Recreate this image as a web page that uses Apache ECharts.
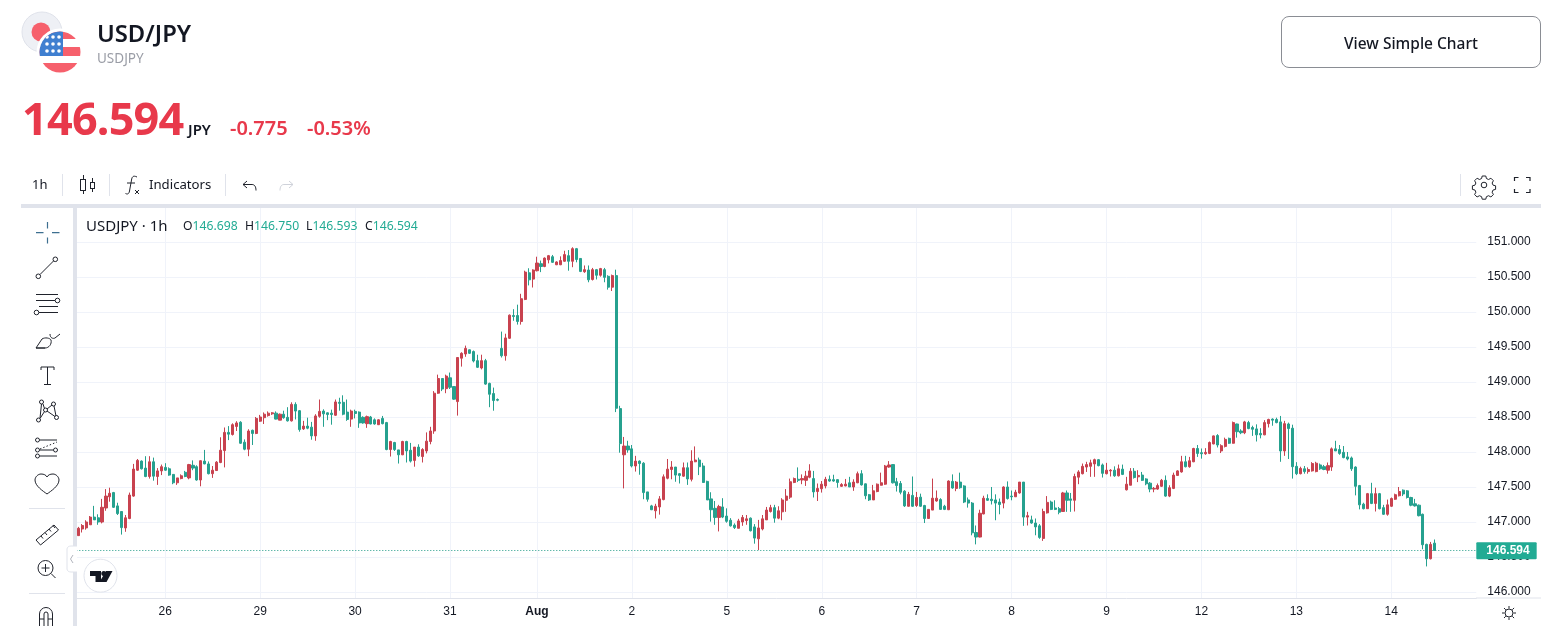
<!DOCTYPE html>
<html>
<head>
<meta charset="utf-8">
<title>USD/JPY</title>
<script src="https://cdn.jsdelivr.net/npm/echarts@6/dist/echarts.min.js"></script>
<style>
  html, body { margin: 0; padding: 0; background: #fff; overflow: hidden; }
  body { width: 1546px; height: 640px; position: relative; font-family: "Noto Sans", sans-serif; color: #131722; }
  #chart { position: absolute; left: 0; top: 0; width: 1546px; height: 640px; }
  #icons { position: absolute; left: 0; top: 0; pointer-events: none; }
  .t { position: absolute; white-space: nowrap; line-height: 1; }
  .up { color: #22ab94; }
  .red { color: #e8394b; }
  .btn { position: absolute; left: 1281px; top: 16px; width: 258px; height: 50px; border: 1px solid #8a8d94; border-radius: 8px;
         text-align: center; line-height: 52px; font-size: 15.5px; font-weight: 500; color: #131722; }
</style>
</head>
<body>
<div id="chart"></div>

<svg id="icons" width="1546" height="640" fill="none" stroke="#1f222b" stroke-width="1">
  <!-- panel bands -->
  <rect x="21" y="204" width="1520" height="4" fill="#e0e3eb" stroke="none"/>
  <rect x="73" y="204" width="4" height="422" fill="#e0e3eb" stroke="none"/>
  <line x1="1476" y1="598" x2="1541" y2="598" stroke="#e0e3eb"/>
  <!-- flags -->
  <circle cx="42" cy="32" r="20" fill="#eef0f5" stroke="#dfe2ea"/>
  <circle cx="41" cy="32" r="9.5" fill="#f6606c" stroke="none"/>
  <circle cx="60" cy="52" r="23.5" fill="#fff" stroke="none"/>
  <clipPath id="us"><circle cx="60" cy="52" r="20.5"/></clipPath>
  <g clip-path="url(#us)" stroke="none">
    <rect x="39" y="31" width="42" height="42" fill="#fff"/>
    <rect x="39" y="31" width="42" height="8" fill="#f6606c"/>
    <rect x="39" y="47" width="42" height="9" fill="#f6606c"/>
    <rect x="39" y="63" width="42" height="11" fill="#f6606c"/>
    <rect x="39" y="31" width="24" height="25" fill="#3f7fd0"/>
    <g fill="#fff">
      <circle cx="47" cy="37" r="1.800"/><circle cx="53" cy="37" r="1.800"/><circle cx="59" cy="37" r="1.800"/>
      <circle cx="47" cy="44" r="1.800"/><circle cx="53" cy="44" r="1.800"/><circle cx="59" cy="44" r="1.800"/>
      <circle cx="47" cy="51" r="1.800"/><circle cx="53" cy="51" r="1.800"/><circle cx="59" cy="51" r="1.800"/>
    </g>
  </g>
  <!-- toolbar separators -->
  <g stroke="#e0e3eb">
    <line x1="62.5" y1="174" x2="62.5" y2="196"/><line x1="109.5" y1="174" x2="109.5" y2="196"/>
    <line x1="225.5" y1="174" x2="225.5" y2="196"/><line x1="1460.5" y1="174" x2="1460.5" y2="196"/>
    <line x1="29" y1="508.5" x2="65" y2="508.5"/><line x1="29" y1="593.5" x2="65" y2="593.5"/>
  </g>
  <!-- candle icon -->
  <path d="M83.5 175v4M83.5 190v4M92.5 178v4M92.5 188v4"/>
  <rect x="80.5" y="179.5" width="5" height="11"/><rect x="90.5" y="182.5" width="4" height="6"/>
  <!-- fx icon -->
  <path d="M137 177c-4-2-5 0-5.500 3l-2 11c-.5 3-2 3.500-4 2.500M127 183h8M135 190l4 4M139 190l-4 4"/>
  <!-- undo / redo -->
  <path d="M247 181l-4 3.500 4 3.500M243 184.500h9c2.500 0 4 2 4 6"/>
  <path d="M289 181l4 3.500-4 3.500M293 184.500h-9c-2.500 0-4 2-4 6" stroke="#cfd2da"/>
  <!-- gear / fullscreen -->
  <g transform="translate(1484 185)">
    <circle r="2.800"/>
    <path d="M-1.800-9l3.600 0 .6 2.500 2.200 1 2.300-1.300 2.500 2.500-1.300 2.300 1 2.200 2.500.6v3.600l-2.500.6-1 2.200 1.300 2.300-2.500 2.500-2.300-1.300-2.200 1-.6 2.500h-3.600l-.6-2.500-2.200-1-2.300 1.300-2.500-2.500 1.300-2.300-1-2.200-2.500-.6v-3.600l2.500-.6 1-2.200-1.300-2.300 2.500-2.500 2.300 1.300 2.200-1z"/>
  </g>
  <path d="M1514.500 181v-3.500h4M1526 177.500h4v3.500M1530 189v3.500h-4M1518.500 192.500h-4v-3.500" stroke-width="1.200"/>
  <!-- left drawing tools -->
  <path d="M36 232.700h7.500M52 232.700h7.500M47.500 222v6.500M47.500 237.500v6" stroke="#3d6f90" stroke-width="1.200"/>
  <line x1="40" y1="274.500" x2="53.500" y2="261"/><circle cx="38.300" cy="276.300" r="2.300"/><circle cx="55.300" cy="259.300" r="2.300"/>
  <path d="M36 294.500h22M36 300.500h19M39 306.500h19M39 312.500h19"/><circle cx="57.500" cy="300.500" r="2.300"/><circle cx="36.500" cy="312.500" r="2.300"/>
  <path d="M36 348l6-9c3-2 8-1 9 1 1 4-2 8-6 8zM36 348h9M50 334c0 4 3 5 5 4l5-4"/>
  <path d="M41 370v-3h13v3M47.500 367v17M44 384.500h7"/>
  <g>
    <circle cx="38.500" cy="420" r="2"/><circle cx="41.500" cy="402" r="2"/><circle cx="45.500" cy="410" r="2"/><circle cx="53.500" cy="404" r="2"/><circle cx="56.500" cy="417.500" r="2"/>
    <path d="M40 418l1.500-14M40 418.500l4.500-7M43 404l1.500 4.500M47 409l5-4M47 411l8 5.500M54 406l2 10"/>
  </g>
  <circle cx="37.500" cy="440" r="2"/><circle cx="37.500" cy="450" r="2"/><circle cx="37.500" cy="456" r="2"/><circle cx="55.500" cy="450" r="2"/>
  <path d="M40 440h17M40 450h13M40 456h17"/><path d="M40 449l17-7" stroke-dasharray="1.500 2"/>
  <path d="M47 494c-4-3-12-8-12-14 0-3 3-6 6-6 3 0 5 1 6 3 1-2 3-3 6-3 3 0 6 3 6 6 0 6-8 11-12 14z"/>
  <path d="M36 540l18-15 4.500 5-18 15zM41 536l2 2.500M45 532.500l2 2.500M49 529l2 2.500M53 525.500l2 2.500"/>
  <circle cx="45.500" cy="568" r="7.500"/><path d="M45.500 564v8M41.500 568h8M51 573.500l4.500 4.500"/>
  <path d="M39.500 626v-12a6.500 6.500 0 0 1 13 0v12M44 626v-12a2 2 0 0 1 4 0v12M39.500 619h4.500M48 619h4.500"/>
  <!-- collapse handle and logo -->
  <path d="M77 546h-6c-2 0-4 1-4 3v20c0 2 2 3 4 3h6" fill="#fff" stroke="#e0e3eb"/>
  <path d="M73 555l-2.500 4 2.500 4" stroke="#b2b5be"/>
  <circle cx="100.500" cy="575.700" r="16.500" fill="#fff" stroke="#e0e3eb"/>
  <path d="M90 571h11v11h-5.500v-6h-5.500zM106 571h6.500l-6 11h-7z" fill="#131722" stroke="none"/>
  <circle cx="103.800" cy="573.500" r="2.500" fill="#131722" stroke="none"/>
  <!-- sun -->
  <circle cx="1509" cy="613" r="4"/><path d="M1509 606v2.500M1509 617.500v2.500M1502 613h2.500M1513.500 613h2.500M1504 608l1.800 1.800M1512.300 616.300l1.800 1.800M1504 618l1.800-1.800M1512.300 609.700l1.800-1.800"/>
</svg>

<div class="t" style="left:97px;top:22px;font-size:23.8px;font-weight:600;">USD/JPY</div>
<div class="t" style="left:97px;top:52px;font-size:13.5px;color:#9a9da6;">USDJPY</div>
<div class="t red" style="left:22px;top:95px;font-size:45px;font-weight:700;letter-spacing:-.8px;">146.594</div>
<div class="t" style="left:188px;top:122px;font-size:15px;font-weight:600;">JPY</div>
<div class="t red" style="left:230px;top:118px;font-size:20px;font-weight:600;">-0.775</div>
<div class="t red" style="left:307px;top:118px;font-size:20px;font-weight:600;">-0.53%</div>
<div class="btn">View Simple Chart</div>

<div class="t" style="left:32px;top:178px;font-size:13px;">1h</div>
<div class="t" style="left:149px;top:178px;font-size:13.2px;">Indicators</div>

<div class="t" style="left:86px;top:218px;font-size:15px;">USDJPY · 1h</div>
<div class="t" style="left:183px;top:220px;font-size:12.2px;">O<span class="up">146.698</span></div>
<div class="t" style="left:245px;top:220px;font-size:12.2px;">H<span class="up">146.750</span></div>
<div class="t" style="left:306px;top:220px;font-size:12.2px;">L<span class="up">146.593</span></div>
<div class="t" style="left:365px;top:220px;font-size:12.2px;">C<span class="up">146.594</span></div>

<script>
  // hourly candles
  var opens = [
    146.805,146.90,146.915,146.96,147.07,147.06,147.0,147.20,147.36,147.42,
    147.23,147.15,146.915,147.05,147.37,147.74,147.87,147.77,147.65,147.86,
    147.65,147.73,147.78,147.76,147.68,147.56,147.62,147.71,147.63,147.81,
    147.79,147.60,147.87,147.83,147.69,147.735,147.85,148.02,148.28,148.25,
    148.365,148.425,148.14,148.04,148.31,148.265,148.44,148.49,148.52,148.545,
    148.555,148.455,148.54,148.495,148.445,148.68,148.59,148.33,148.37,148.355,
    148.23,148.51,148.585,148.56,148.555,148.525,148.71,148.71,148.57,148.47,
    148.58,148.57,148.495,148.405,148.50,148.46,148.39,148.48,148.42,148.035,
    148.135,148.03,147.96,148.15,148.025,147.88,148.07,147.935,148.015,148.15,
    148.30,148.84,149.05,148.905,149.06,148.935,148.72,149.34,149.40,149.46,
    149.435,149.305,149.20,149.305,148.98,148.835,148.75,149.48,149.375,149.625,
    149.95,149.95,149.865,150.18,150.56,150.47,150.59,150.69,150.65,150.745,
    150.79,150.675,150.675,150.725,150.805,150.725,150.905,150.765,150.575,150.60,
    150.465,150.605,150.525,150.605,150.51,150.355,150.52,148.62,147.96,148.085,
    148.045,147.80,147.87,147.84,147.43,147.23,147.16,147.215,147.32,147.625,
    147.75,147.785,147.69,147.655,147.775,147.61,147.86,147.885,147.80,147.58,
    147.33,147.195,147.065,147.215,147.085,147.025,146.955,146.91,147.00,147.02,
    147.055,146.93,146.76,146.90,147.03,147.15,147.205,147.055,147.145,147.31,
    147.355,147.565,147.61,147.60,147.595,147.64,147.62,147.435,147.475,147.515,
    147.61,147.605,147.605,147.51,147.515,147.56,147.50,147.56,147.69,147.545,
    147.39,147.315,147.435,147.525,147.54,147.785,147.82,147.575,147.55,147.44,
    147.225,147.38,147.235,147.355,147.235,147.05,147.17,147.30,147.32,147.225,
    147.175,147.58,147.48,147.57,147.515,147.315,147.27,146.85,146.785,147.115,
    147.335,147.325,147.315,147.285,147.27,147.50,147.37,147.36,147.415,147.57,
    147.07,147.03,146.985,146.945,146.765,147.13,147.285,147.20,147.19,147.15,
    147.415,147.33,147.31,147.64,147.69,147.785,147.795,147.83,147.89,147.815,
    147.69,147.73,147.74,147.66,147.755,147.46,147.525,147.725,147.645,147.67,
    147.615,147.555,147.47,147.47,147.51,147.595,147.37,147.48,147.665,147.715,
    147.86,147.79,147.86,148.05,147.99,147.975,147.98,148.115,148.235,148.015,
    148.08,148.195,148.125,148.40,148.30,148.275,148.42,148.35,148.33,148.265,
    148.245,148.405,148.47,148.465,148.43,148.015,148.40,148.34,147.795,147.69,
    147.76,147.72,147.73,147.72,147.815,147.79,147.74,147.785,148.045,148.035,
    147.995,147.93,147.915,147.785,147.52,147.255,147.19,147.405,147.265,147.405,
    147.205,147.11,147.225,147.325,147.375,147.455,147.445,147.35,147.26,147.24,
    147.11,146.68,146.475,146.698
  ];
  var closes = [
    146.91,146.95,147.0,147.07,147.03,147.0,147.21,147.37,147.41,147.21,
    147.12,146.92,147.06,147.385,147.756,147.88,147.76,147.65,147.86,147.655,
    147.73,147.79,147.74,147.67,147.56,147.63,147.66,147.65,147.82,147.77,
    147.60,147.875,147.83,147.69,147.74,147.855,148.025,148.28,148.255,148.39,
    148.415,148.125,148.04,148.30,148.265,148.48,148.50,148.54,148.555,148.56,
    148.47,148.54,148.49,148.445,148.68,148.585,148.32,148.37,148.34,148.23,
    148.515,148.58,148.545,148.535,148.535,148.715,148.695,148.54,148.465,148.585,
    148.55,148.415,148.415,148.505,148.40,148.40,148.46,148.405,148.035,148.15,
    148.035,147.96,148.15,148.015,147.87,148.07,147.945,148.035,148.155,148.30,
    148.84,149.05,148.90,149.085,148.925,148.755,149.35,149.41,149.48,149.41,
    149.30,149.21,149.305,148.97,148.825,148.735,148.74,149.375,149.63,149.955,
    149.935,149.865,150.19,150.57,150.46,150.60,150.70,150.65,150.77,150.805,
    150.71,150.715,150.735,150.82,150.725,150.905,150.75,150.58,150.605,150.46,
    150.605,150.525,150.62,150.495,150.355,150.52,148.625,148.12,148.085,148.03,
    147.80,147.87,147.835,147.42,147.325,147.175,147.225,147.33,147.645,147.755,
    147.785,147.67,147.665,147.775,147.615,147.87,147.885,147.79,147.565,147.315,
    147.175,147.065,147.22,147.07,147.01,146.945,146.92,147.015,147.065,147.045,
    146.875,146.77,146.915,147.045,147.17,147.205,147.055,147.16,147.315,147.37,
    147.575,147.62,147.595,147.62,147.655,147.73,147.43,147.48,147.54,147.61,
    147.585,147.585,147.565,147.535,147.54,147.50,147.57,147.69,147.53,147.375,
    147.315,147.445,147.54,147.56,147.80,147.815,147.56,147.52,147.425,147.23,
    147.395,147.225,147.35,147.225,147.05,147.18,147.34,147.34,147.18,147.18,
    147.585,147.485,147.57,147.49,147.285,147.27,146.845,146.785,147.125,147.34,
    147.31,147.305,147.27,147.25,147.50,147.335,147.36,147.425,147.57,147.07,
    147.09,146.985,146.93,146.78,147.15,147.28,147.18,147.18,147.14,147.415,
    147.31,147.31,147.65,147.715,147.795,147.82,147.845,147.89,147.805,147.695,
    147.74,147.74,147.66,147.76,147.68,147.54,147.725,147.635,147.665,147.595,
    147.545,147.47,147.48,147.52,147.595,147.37,147.49,147.67,147.73,147.86,
    147.79,147.875,148.05,147.98,147.975,147.995,148.135,148.23,148.10,148.09,
    148.18,148.125,148.42,148.29,148.275,148.43,148.335,148.325,148.245,148.245,
    148.42,148.465,148.455,148.42,148.015,148.405,148.335,147.79,147.69,147.765,
    147.72,147.75,147.835,147.84,147.76,147.75,147.805,148.045,148.015,147.98,
    147.92,147.90,147.76,147.51,147.245,147.19,147.405,147.265,147.405,147.19,
    147.11,147.245,147.335,147.39,147.435,147.40,147.35,147.24,147.23,147.09,
    146.675,146.475,146.68,146.594
  ];
  var highs = [
    146.93,146.97,147.025,147.085,147.23,147.11,147.33,147.47,147.49,147.43,
    147.275,147.15,147.10,147.42,147.83,147.90,147.88,147.94,147.94,147.92,
    147.77,147.82,147.84,147.78,147.685,147.63,147.68,147.73,147.83,147.88,
    147.81,147.88,148.03,147.865,147.80,147.87,148.21,148.35,148.37,148.41,
    148.44,148.44,148.18,148.325,148.32,148.50,148.53,148.565,148.58,148.57,
    148.58,148.55,148.59,148.64,148.71,148.71,148.60,148.445,148.49,148.43,
    148.54,148.75,148.61,148.565,148.605,148.75,148.775,148.81,148.75,148.605,
    148.605,148.58,148.51,148.52,148.515,148.48,148.47,148.515,148.43,148.16,
    148.145,148.03,148.16,148.16,148.13,148.07,148.11,148.055,148.28,148.36,
    148.87,149.105,149.05,149.105,149.135,148.935,149.35,149.425,149.52,149.465,
    149.45,149.39,149.39,149.33,148.99,148.92,148.765,149.72,149.69,149.965,
    150.04,150.105,150.26,150.59,150.625,150.61,150.79,150.735,150.78,150.815,
    150.815,150.725,150.795,150.875,150.885,150.925,150.915,150.77,150.665,150.665,
    150.63,150.615,150.63,150.63,150.525,150.535,150.605,148.66,148.215,148.16,
    148.10,147.945,147.88,147.855,147.43,147.245,147.26,147.37,147.68,147.90,
    147.87,147.785,147.70,147.85,147.85,148.025,148.08,147.92,147.845,147.59,
    147.425,147.30,147.245,147.34,147.195,147.055,146.98,147.045,147.10,147.10,
    147.065,146.97,147.03,147.10,147.215,147.245,147.245,147.225,147.34,147.47,
    147.62,147.635,147.78,147.68,147.73,147.825,147.73,147.55,147.585,147.645,
    147.665,147.675,147.61,147.555,147.615,147.645,147.61,147.72,147.74,147.55,
    147.40,147.53,147.55,147.705,147.815,147.87,147.825,147.63,147.585,147.455,
    147.43,147.65,147.43,147.405,147.245,147.18,147.62,147.45,147.34,147.245,
    147.595,147.68,147.585,147.705,147.525,147.35,147.285,146.95,147.175,147.375,
    147.395,147.50,147.395,147.335,147.51,147.58,147.45,147.46,147.57,147.57,
    147.145,147.09,147.05,146.97,147.19,147.37,147.305,147.31,147.215,147.43,
    147.45,147.415,147.69,147.74,147.835,147.86,147.89,147.905,147.90,147.835,
    147.845,147.755,147.795,147.82,147.82,147.645,147.77,147.77,147.74,147.715,
    147.625,147.57,147.50,147.55,147.615,147.665,147.525,147.705,147.74,147.945,
    147.945,147.93,148.06,148.10,148.05,148.055,148.15,148.235,148.255,148.11,
    148.205,148.205,148.435,148.405,148.325,148.445,148.445,148.375,148.395,148.34,
    148.455,148.475,148.48,148.49,148.515,148.445,148.42,148.39,147.855,147.79,
    147.80,147.78,147.855,147.86,147.835,147.815,147.85,148.065,148.16,148.10,
    148.085,148.00,147.935,147.795,147.53,147.275,147.415,147.56,147.49,147.415,
    147.245,147.32,147.35,147.405,147.50,147.465,147.455,147.36,147.33,147.25,
    147.12,146.69,146.715,146.75
  ];
  var lows = [
    146.80,146.85,146.89,146.96,147.03,146.96,146.98,147.16,147.29,147.20,
    147.10,146.82,146.86,147.04,147.36,147.73,147.75,147.64,147.62,147.59,
    147.53,147.67,147.73,147.66,147.54,147.53,147.61,147.64,147.61,147.74,
    147.59,147.51,147.825,147.68,147.63,147.73,147.84,147.78,148.17,148.235,
    148.30,148.115,148.025,147.94,148.10,148.255,148.43,148.40,148.505,148.53,
    148.465,148.455,148.475,148.435,148.435,148.465,148.29,148.315,148.325,148.175,
    148.16,148.49,148.36,148.455,148.39,148.515,148.59,148.525,148.445,148.36,
    148.48,148.345,148.405,148.345,148.395,148.39,148.385,148.395,148.025,147.935,
    148.015,147.835,147.955,147.85,147.85,147.79,147.93,147.85,147.98,148.11,
    148.26,148.83,148.87,148.84,148.90,148.745,148.52,149.22,149.36,149.40,
    149.28,149.20,149.18,148.96,148.64,148.59,148.725,149.35,149.305,149.615,
    149.875,149.82,149.82,150.17,150.38,150.35,150.58,150.57,150.64,150.695,
    150.70,150.67,150.67,150.72,150.59,150.64,150.71,150.57,150.56,150.425,
    150.45,150.465,150.505,150.425,150.32,150.30,148.57,147.99,147.48,147.99,
    147.78,147.72,147.675,147.325,147.29,147.17,147.05,147.105,147.31,147.61,
    147.61,147.575,147.55,147.645,147.53,147.58,147.855,147.67,147.56,147.315,
    147.005,146.96,146.865,147.055,146.99,146.935,146.90,146.91,146.945,146.96,
    146.865,146.69,146.60,146.88,147.03,147.135,146.99,147.04,147.025,147.145,
    147.33,147.555,147.57,147.54,147.515,147.625,147.35,147.30,147.42,147.48,
    147.575,147.575,147.49,147.50,147.51,147.50,147.445,147.555,147.52,147.325,
    147.30,147.315,147.425,147.52,147.53,147.775,147.55,147.435,147.395,147.215,
    147.22,147.215,147.215,147.215,146.985,147.05,147.17,147.29,147.175,147.17,
    147.17,147.475,147.44,147.475,147.27,147.205,146.81,146.68,146.78,147.11,
    147.30,147.25,147.025,147.11,147.195,147.32,147.31,147.36,147.405,146.945,
    146.95,146.975,146.81,146.76,146.73,147.12,147.17,147.17,147.11,147.15,
    147.145,147.145,147.15,147.54,147.68,147.715,147.645,147.645,147.795,147.635,
    147.68,147.65,147.645,147.65,147.67,147.45,147.525,147.62,147.57,147.585,
    147.525,147.425,147.425,147.46,147.50,147.36,147.355,147.47,147.66,147.705,
    147.78,147.775,147.855,147.93,147.905,147.96,147.97,148.11,148.065,147.985,
    148.065,148.115,148.12,148.205,148.255,148.255,148.325,148.23,148.15,148.195,
    148.24,148.35,148.375,148.41,147.86,147.945,147.90,147.62,147.67,147.68,
    147.69,147.69,147.72,147.71,147.745,147.74,147.69,147.73,148.015,147.96,
    147.91,147.88,147.73,147.38,147.18,147.18,147.19,147.255,147.15,147.18,
    147.10,147.09,147.215,147.315,147.365,147.37,147.335,147.225,147.22,147.08,
    146.61,146.365,146.465,146.593
  ];

  // day labels and the bar each one sits on
  var dayLabels = ['26', '29', '30', '31', 'Aug', '2', '5', '6', '7', '8', '9', '12', '13', '14'];
  var dayBars = [22, 46, 70, 94, 116, 140, 164, 188, 212, 236, 260, 284, 308, 332];
  var priceTicks = [146, 146.5, 147, 147.5, 148, 148.5, 149, 149.5, 150, 150.5, 151];
  var lastPrice = 146.594;
  var barSlots = 354; // leaves the empty space right of the last candle

  var colorUp = '#c8424f';
  var colorDown = '#26a18f';

  var categories = [];
  for (var i = 0; i < barSlots; i++) {
    var at = dayBars.indexOf(i);
    categories.push(at >= 0 ? dayLabels[at] : '');
  }
  var candles = opens.map(function (o, k) {
    return [o, closes[k], lows[k], highs[k]];
  });
  function isDayBar(index) {
    return dayBars.indexOf(index) >= 0;
  }

  var myChart = echarts.init(document.getElementById('chart'), null, { renderer: 'canvas' });
  var option = {
    animation: false,
    backgroundColor: '#fff',
    grid: { left: 76.3, top: 208, width: 1400, height: 390 },
    xAxis: {
      type: 'category',
      data: categories,
      boundaryGap: true,
      axisLine: { lineStyle: { color: '#e0e3eb' } },
      axisTick: { show: false },
      axisLabel: {
        interval: function (index) { return isDayBar(index); },
        hideOverlap: false,
        margin: 8,
        fontFamily: 'Liberation Sans',
        fontSize: 12,
        color: '#131722',
        formatter: function (v) { return v === 'Aug' ? '{b|Aug}' : v; },
        rich: { b: { fontWeight: 'bold', fontSize: 12, fontFamily: 'Liberation Sans', color: '#131722' } }
      },
      splitLine: {
        show: true,
        alignWithLabel: true,
        interval: function (index) { return isDayBar(index); },
        lineStyle: { color: '#f0f3fa' }
      }
    },
    yAxis: {
      type: 'value',
      position: 'right',
      min: 145.914,
      max: 151.486,
      axisLine: { show: false },
      axisTick: { show: false, customValues: priceTicks },
      axisLabel: {
        customValues: priceTicks,
        margin: 11,
        padding: [3, 0, 0, 0],
        fontFamily: 'Liberation Sans',
        fontSize: 12,
        color: '#131722',
        formatter: function (v) { return v.toFixed(3); }
      },
      splitLine: { show: true, lineStyle: { color: '#f0f3fa' } }
    },
    series: [
      {
        type: 'candlestick',
        data: candles,
        barWidth: 2.6,
        itemStyle: {
          color: colorUp,
          color0: colorDown,
          borderColor: colorUp,
          borderColor0: colorDown,
          borderWidth: 1
        },
        markLine: {
          silent: true,
          symbol: 'none',
          animation: false,
          lineStyle: { color: '#1f9a86', type: [1, 2], width: 1 },
          label: {
            position: 'end',
            distance: 0,
            backgroundColor: '#22ab94',
            borderRadius: 1,
            color: '#fff',
            fontFamily: 'Liberation Sans',
            fontWeight: 'bold',
            fontSize: 12,
            padding: [3, 7, 2, 10],
            formatter: function () { return lastPrice.toFixed(3); }
          },
          data: [{ yAxis: lastPrice }]
        }
      }
    ]
  };
  myChart.setOption(option);
</script>
</body>
</html>
